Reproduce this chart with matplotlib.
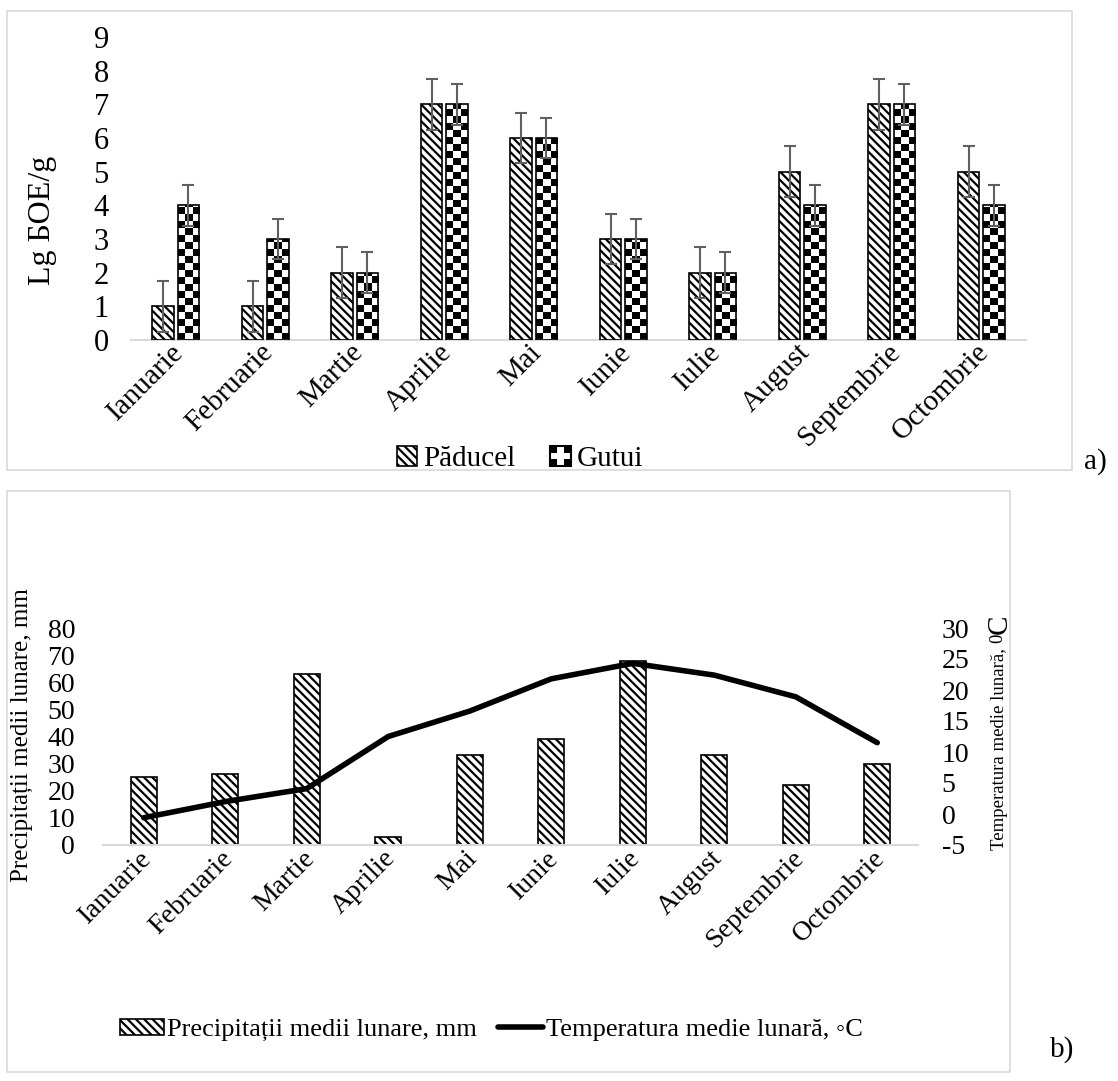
import numpy as np
import matplotlib
matplotlib.use('Agg')
import matplotlib.pyplot as plt
from matplotlib.patches import Rectangle
from matplotlib.legend_handler import HandlerBase
from matplotlib.transforms import ScaledTranslation

# data, chart a)
months = ['Ianuarie', 'Februarie', 'Martie', 'Aprilie', 'Mai',
          'Iunie', 'Iulie', 'August', 'Septembrie', 'Octombrie']
paducel = [1, 1, 2, 7, 6, 3, 2, 5, 7, 5]
gutui = [4, 3, 2, 7, 6, 3, 2, 4, 7, 4]
paducel_err = [0.75, 0.75, 0.75, 0.75, 0.75, 0.75, 0.75, 0.75, 0.75, 0.75]
gutui_err = [0.6, 0.6, 0.6, 0.6, 0.6, 0.6, 0.6, 0.6, 0.6, 0.6]

# data, chart b)
precip = [25, 26, 63, 3, 33, 39, 68, 33, 22, 30]
temp = [-0.6, 2.0, 4.1, 12.5, 16.6, 21.8, 24.3, 22.4, 18.9, 11.5]

plt.rcParams['font.family'] = ['Liberation Serif', 'DejaVu Serif']
plt.rcParams['hatch.linewidth'] = 1.6
plt.rcParams['axes.unicode_minus'] = False

W, H = 1118, 1081
fig = plt.figure(figsize=(W / 100, H / 100), dpi=100)


def rect(x0, y0, x1, y1):
    # pixel box (top-left origin) -> figure fraction rect
    return [x0 / W, 1 - y1 / H, (x1 - x0) / W, (y1 - y0) / H]


def frame(x0, y0, x1, y1):
    r = rect(x0, y0, x1, y1)
    fig.add_artist(Rectangle((r[0], r[1]), r[2], r[3], transform=fig.transFigure,
                             fill=False, ec='#d9d9d9', lw=1.2))


def shift_labels(ax, dx, dy):
    for lbl in ax.get_xticklabels():
        lbl.set_transform(lbl.get_transform() +
                          ScaledTranslation(dx / 100, -dy / 100, fig.dpi_scale_trans))


class CheckerHandler(HandlerBase):
    def create_artists(self, legend, orig_handle, xdescent, ydescent,
                       width, height, fontsize, trans):
        s = min(width, height)
        x0 = -xdescent + (width - s) / 2
        y0 = -ydescent + (height - s) / 2
        arts = [Rectangle((x0, y0), s, s, fc='white', ec='black', lw=1.5, transform=trans)]
        n = 3
        for i in range(n):
            for j in range(n):
                if (i + j) % 2 == 0 and not (i == 1 and j == 1):
                    arts.append(Rectangle((x0 + i * s / n, y0 + j * s / n), s / n, s / n,
                                          fc='black', ec='none', transform=trans))
        return arts


frame(7, 11, 1072, 470)
frame(7, 491, 1010, 1072)

# ---------------- a) ----------------
ax1 = fig.add_axes(rect(131, 37, 1026, 340))
x = np.arange(len(months))
bw = 0.24
off = 0.14
b1 = ax1.bar(x - off, paducel, bw, facecolor='white', edgecolor='black',
             hatch='\\\\\\\\', lw=1.2, zorder=3)
b2 = ax1.bar(x + off, gutui, bw, facecolor='none', edgecolor='black', lw=1.2, zorder=3)

px_per_unit = (340 - 37) / 9
dy = 7 / px_per_unit
for bar in b2:
    x0, w, h = bar.get_x(), bar.get_width(), bar.get_height()
    rows = int(np.ceil(h / dy))
    pat = np.add.outer(np.arange(rows), np.arange(3)) % 2
    im = ax1.imshow(pat, cmap='gray', vmin=0, vmax=1, origin='lower',
                    extent=(x0, x0 + w, 0, rows * dy), interpolation='nearest',
                    aspect='auto', zorder=2.5)
    im.set_clip_path(bar)

ax1.errorbar(x - off, paducel, yerr=paducel_err, fmt='none', ecolor='#606060',
             elinewidth=1.5, capsize=4.5, capthick=1.5, zorder=4)
ax1.errorbar(x + off, gutui, yerr=gutui_err, fmt='none', ecolor='#606060',
             elinewidth=1.5, capsize=4.5, capthick=1.5, zorder=4)

ax1.set_xlim(-0.5, len(months) - 0.5)
ax1.set_ylim(0, 9)
ax1.set_yticks(range(0, 10))
ax1.set_xticks(x)
ax1.set_xticklabels(months, rotation=45, ha='right', va='center',
                    rotation_mode='anchor')
ax1.tick_params(axis='x', length=0, pad=6, labelsize=21)
ax1.tick_params(axis='y', length=0, pad=16, labelsize=22)
shift_labels(ax1, 4, 0)
for s in ['top', 'right', 'left']:
    ax1.spines[s].set_visible(False)
ax1.spines['bottom'].set_color('#d9d9d9')
ax1.spines['bottom'].set_linewidth(1.5)
ax1.set_ylabel('Lg БОЕ/g', fontsize=23)
ax1.yaxis.set_label_coords((57 - 131) / 895, (340 - 220) / 303)

h_pad = Rectangle((0, 0), 1, 1, fc='white', ec='black', hatch='\\\\\\\\', lw=1.2)
h_gut = Rectangle((0, 0), 1, 1, fc='white', ec='black')
fig.legend([h_pad, h_gut], ['Păducel', 'Gutui'], ncol=2, frameon=False,
           loc='center', bbox_to_anchor=(520 / W, 1 - 459 / H), fontsize=21,
           handlelength=0.7, handleheight=0.7, handletextpad=0.2,
           columnspacing=1.2, handler_map={h_gut: CheckerHandler()})

fig.text(1084 / W, 1 - 462 / H, 'a)', fontsize=21, ha='left', va='center')

# ---------------- b) ----------------
ax2 = fig.add_axes(rect(103, 628, 918, 845))
ax2.bar(x, precip, 0.32, facecolor='white', edgecolor='black',
        hatch='\\\\\\\\', lw=1.2, zorder=3, label='Precipitații medii lunare, mm')
ax2.set_xlim(-0.5, len(months) - 0.5)
ax2.set_ylim(0, 80)
ax2.set_yticks(range(0, 81, 10))
ax2.set_xticks(x)
ax2.set_xticklabels(months, rotation=45, ha='right', va='center',
                    rotation_mode='anchor')
ax2.tick_params(axis='x', length=0, pad=7, labelsize=20)
ax2.tick_params(axis='y', length=0, pad=20, labelsize=20)
shift_labels(ax2, 4, 0)
ax2.set_ylabel('Precipitații medii lunare, mm', fontsize=18)
ax2.yaxis.set_label_coords((33 - 103) / 815, (845 - 735) / 217)

ax3 = ax2.twinx()
ax3.plot(x, temp, color='black', lw=4, solid_capstyle='round', zorder=5,
         label='Temperatura medie lunară, ◦C')
ax3.set_ylim(-5, 30)
ax3.set_yticks(range(-5, 31, 5))
ax3.tick_params(axis='y', length=0, pad=17, labelsize=20)

for a in (ax2, ax3):
    for s in ['top', 'right', 'left']:
        a.spines[s].set_visible(False)
    a.spines['bottom'].set_color('#d9d9d9')
    a.spines['bottom'].set_linewidth(1.5)

# right axis title: small text, larger "C"
t1 = fig.text(1000 / W, 1 - 850 / H, 'Temperatura medie lunară, ', rotation=90,
              ha='center', va='bottom', fontsize=13.5)
fig.canvas.draw()
bb = t1.get_window_extent()
t2 = fig.text(1000 / W - 0.002, bb.y1 / H, '0', rotation=90, ha='center',
              va='bottom', fontsize=13.5)
fig.canvas.draw()
bb2 = t2.get_window_extent()
fig.text(1000 / W, bb2.y1 / H, 'C', rotation=90, ha='center', va='bottom', fontsize=21)

hb, lb = ax2.get_legend_handles_labels()
hl, ll = ax3.get_legend_handles_labels()
fig.legend(hb + hl, lb + ll, ncol=2, frameon=False, loc='center',
           bbox_to_anchor=(491 / W, 1 - 1030 / H), fontsize=19,
           handlelength=1.7, handleheight=0.6, handletextpad=0.1,
           columnspacing=0.8)

fig.text(1050 / W, 1 - 1050 / H, 'b)', fontsize=21, ha='left', va='center')

fig.savefig('out.png', dpi=100)
